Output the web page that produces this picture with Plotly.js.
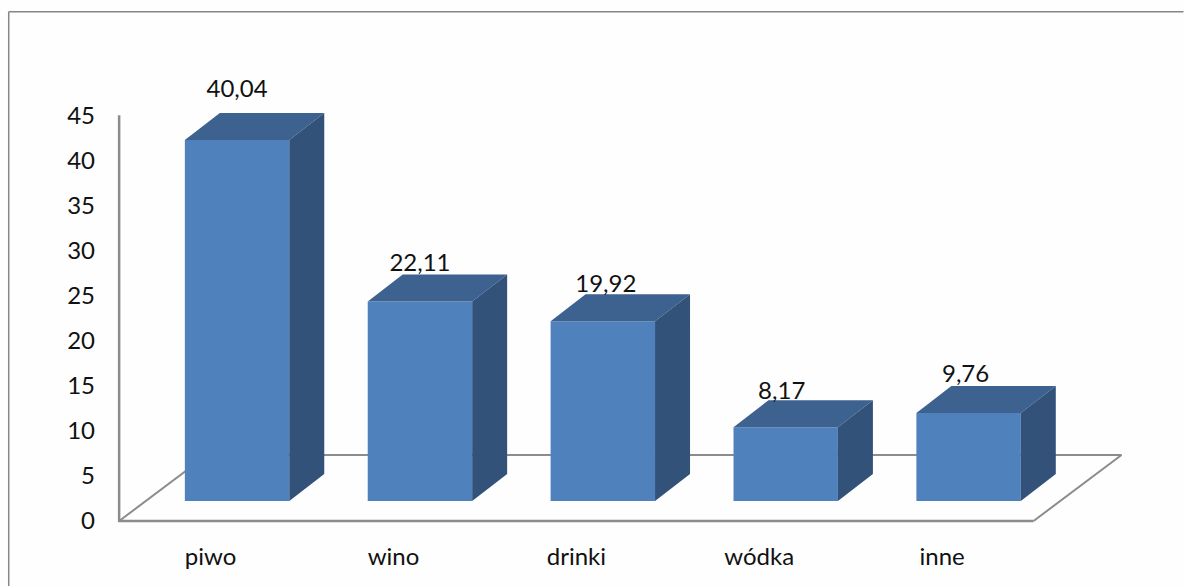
<!DOCTYPE html>
<html>
<head>
<meta charset="utf-8">
<script src="https://cdn.plot.ly/plotly-3.0.1.min.js"></script>
<style>html,body{margin:0;padding:0;background:#fefefe;overflow:hidden}#chart{width:1184px;height:586px}</style>
</head>
<body>
<div id="chart"></div>
<script>
var categories = ["piwo", "wino", "drinki", "wódka", "inne"];
var values = [40.04, 22.11, 19.92, 8.17, 9.76];
var valueLabels = ["40,04", "22,11", "19,92", "8,17", "9,76"];
var yTicks = [0, 5, 10, 15, 20, 25, 30, 35, 40, 45];

// Scale: pixel position of the value-axis origin and pixels per unit
var W = 1184, H = 586;
var originX = 119, originY = 521;
var pxX = (1034 - originX) / categories.length;   // pixels per category
var pxY = (521 - 115) / 45;                       // pixels per value unit

// Axis windows are wider than the drawn wall/floor so the oblique parts are not clipped
var xRange = [-0.55, 5.0], yRange = [-1, 55];
var xStart = -0.5, xEnd = categories.length - 0.5, yMaxTick = 45;
var plotL = originX + (xRange[0] - xStart) * pxX;
var plotR = originX + (xRange[1] - xStart) * pxX;
var plotB = originY - yRange[0] * pxY;
var plotT = originY - yRange[1] * pxY;

// Oblique 3D projection, converted to axis units
var barOffset = 26.5 / pxX, barWidth = 104.5 / pxX;
var base = 20 / pxY;
var depthX = 35 / pxX, depthY = 27 / pxY;
var floorY = 66 / pxY, floorDepthX = 88 / pxX;
// Manual label nudges (pixels) as placed in the source chart
var labelDx = [0, 0, 3, -4, -3], labelDy = [10, -2, -4, -5, -2];

var idx = categories.map(function (_, i) { return i; });

var topX = [], topY = [], sideX = [], sideY = [];
idx.forEach(function (i) {
  var x0 = i + barOffset - barWidth / 2, x1 = x0 + barWidth, v = values[i] + base;
  topX.push(x0, x1, x1 + depthX, x0 + depthX, x0, null);
  topY.push(v, v, v + depthY, v + depthY, v, null);
  sideX.push(x1, x1, x1 + depthX, x1 + depthX, x1, null);
  sideY.push(base, v, v + depthY, base + depthY, base, null);
});

var traces = [
  { type: "scatter", mode: "lines", hoverinfo: "skip", showlegend: false,
    x: [xStart, xStart + floorDepthX, xEnd + floorDepthX, xEnd],
    y: [0, floorY, floorY, 0],
    line: { color: "#8c8c8c", width: 2 } },
  { type: "scatter", mode: "lines", hoverinfo: "skip", showlegend: false,
    x: [xStart, xStart, xEnd], y: [yMaxTick, 0, 0],
    line: { color: "#8c8c8c", width: 2.5 } },
  { type: "bar", xaxis: "x2", yaxis: "y2", showlegend: false, hoverinfo: "skip",
    x: idx.map(function (i) { return i + barOffset; }),
    y: values, base: base, width: barWidth,
    marker: { color: "#4f81bd", line: { width: 0 } } },
  { type: "scatter", mode: "lines", fill: "toself", xaxis: "x2", yaxis: "y2",
    showlegend: false, hoverinfo: "skip", x: topX, y: topY,
    line: { width: 0, color: "#3e6290" }, fillcolor: "#3e6290" },
  { type: "scatter", mode: "lines", fill: "toself", xaxis: "x2", yaxis: "y2",
    showlegend: false, hoverinfo: "skip", x: sideX, y: sideY,
    line: { width: 0, color: "#32527a" }, fillcolor: "#32527a" },
  { type: "scatter", mode: "text", xaxis: "x2", yaxis: "y2",
    showlegend: false, hoverinfo: "skip",
    x: idx.map(function (i) { return i + barOffset + labelDx[i] / pxX; }),
    y: idx.map(function (i) { return values[i] + base + depthY + labelDy[i] / pxY; }),
    text: valueLabels, textposition: "top center",
    textfont: { family: "Lato, 'Open Sans', sans-serif", size: 24, color: "#111111" } }
];

var frameX = (8.5 - plotL) / (plotR - plotL);
var frameTop = (plotB - 11.5) / (plotB - plotT);
var frameBottom = (plotB - H) / (plotB - plotT);

var layout = {
  width: W, height: H, autosize: false,
  margin: { l: plotL, r: W - plotR, t: plotT, b: H - plotB, pad: 0 },
  paper_bgcolor: "#fefefe", plot_bgcolor: "rgba(0,0,0,0)",
  showlegend: false, barmode: "overlay",
  font: { family: "Lato, 'Open Sans', sans-serif", size: 24, color: "#111111" },
  xaxis: { range: xRange, tickmode: "array", tickvals: idx, ticktext: categories,
    showgrid: false, zeroline: false, showline: false,
    ticks: "", ticklabelstandoff: 10, fixedrange: true },
  yaxis: { range: yRange, tickmode: "array", tickvals: yTicks, ticktext: yTicks.map(String),
    showgrid: false, zeroline: false, showline: false,
    ticks: "", ticklabelstandoff: 14, fixedrange: true },
  xaxis2: { range: xRange, overlaying: "x", visible: false, fixedrange: true },
  yaxis2: { range: yRange, overlaying: "y", visible: false, fixedrange: true },
  shapes: [
    { type: "line", xref: "paper", yref: "paper", x0: frameX, x1: frameX, y0: frameBottom, y1: frameTop,
      line: { color: "#868686", width: 1.5 } },
    { type: "line", xref: "paper", yref: "paper", x0: frameX, x1: (W - plotL) / (plotR - plotL), y0: frameTop, y1: frameTop,
      line: { color: "#868686", width: 1.5 } }
  ]
};

Plotly.newPlot("chart", traces, layout, { displayModeBar: false, staticPlot: true });
</script>
</body>
</html>
